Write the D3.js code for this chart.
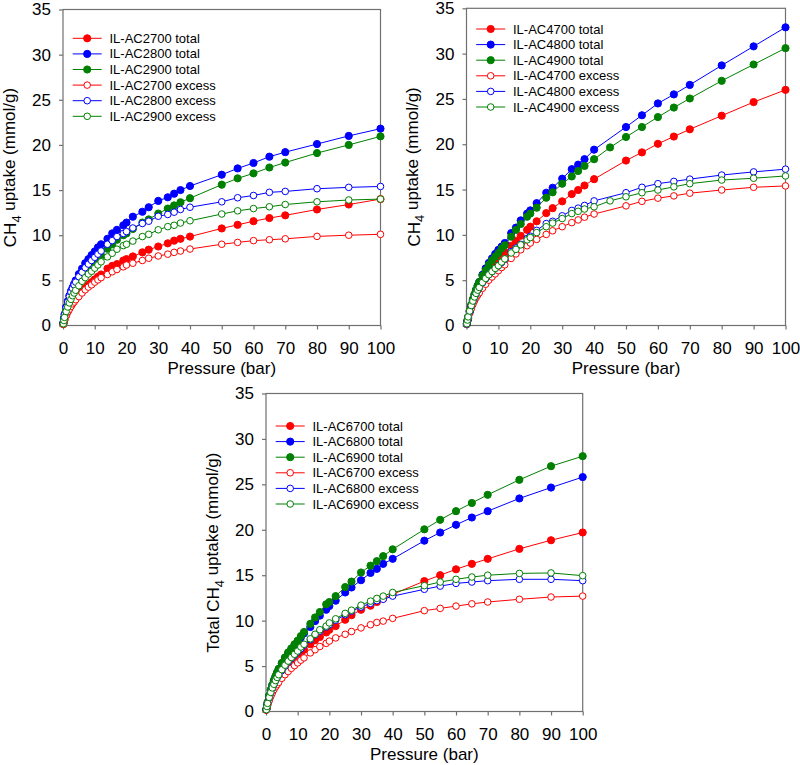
<!DOCTYPE html>
<html>
<head>
<meta charset="utf-8">
<script src="https://cdn.jsdelivr.net/npm/d3@7"></script>
<style>
  body { margin: 0; background: #fff; }
  svg text { font-family: Arial, "Liberation Sans", sans-serif; fill: #000; }
</style>
</head>
<body>
<svg id="chart" width="800" height="765"></svg>
<script>
// pressures (bar) used by the measurements
var pressure = [0.1, 0.3, 0.5, 1, 1.5, 2, 2.5, 3, 3.5, 4, 5, 6, 7, 8, 9,
  10, 11, 12, 14, 15.5, 17, 19, 20, 22, 25, 27, 30, 33, 35, 37, 40,
  50, 55, 60, 65, 70, 80, 90, 100];
// the 4x00 set has one extra point at 45 bar (only IL-AC4900)
var pressure4 = [0.1, 0.3, 0.5, 1, 1.5, 2, 2.5, 3, 3.5, 4, 5, 6, 7, 8, 9,
  10, 11, 12, 14, 15.5, 17, 19, 20, 22, 25, 27, 30, 33, 35, 37, 40, 45,
  50, 55, 60, 65, 70, 80, 90, 100];

var xTicks = [0, 10, 20, 30, 40, 50, 60, 70, 80, 90, 100];
var yTicks = [0, 5, 10, 15, 20, 25, 30, 35];
var seriesColors = ["#ff0000", "#0000ff", "#008000"];

// ---- IL-AC2x00 ----
var names2 = ["IL-AC2700 total", "IL-AC2800 total", "IL-AC2900 total",
  "IL-AC2700 excess", "IL-AC2800 excess", "IL-AC2900 excess"];
var ac2700Total = [0.15, 0.4, 0.65, 1.15, 1.55, 1.9, 2.2, 2.5, 2.75, 3.0, 3.4, 3.8, 4.15, 4.5, 4.8,
  5.1, 5.4, 5.65, 6.3, 6.6, 6.8, 7.2, 7.35, 7.65, 8.1, 8.4, 8.75, 9.1, 9.4, 9.6, 9.85,
  10.75, 11.15, 11.55, 11.9, 12.2, 12.85, 13.4, 14.0];
var ac2800Total = [0.3, 0.8, 1.25, 2.05, 2.7, 3.3, 3.8, 4.2, 4.6, 5.0, 5.7, 6.3, 6.9, 7.35, 7.8,
  8.2, 8.65, 9.0, 9.6, 10.2, 10.6, 11.1, 11.4, 12.05, 12.6, 13.1, 13.8, 14.2, 14.6, 15.0, 15.45,
  16.7, 17.4, 18.0, 18.7, 19.2, 20.1, 21.0, 21.8];
var ac2900Total = [0.2, 0.6, 1.0, 1.7, 2.3, 2.8, 3.2, 3.6, 4.0, 4.3, 4.9, 5.4, 5.9, 6.3, 6.7,
  7.0, 7.35, 7.75, 8.5, 9.0, 9.5, 10.0, 10.2, 10.7, 11.4, 11.75, 12.4, 12.95, 13.3, 13.65, 14.1,
  15.6, 16.3, 16.85, 17.5, 18.05, 19.1, 20.0, 20.95];
var ac2700Excess = [0.15, 0.4, 0.6, 1.1, 1.5, 1.8, 2.1, 2.4, 2.6, 2.85, 3.2, 3.6, 3.95, 4.25, 4.5,
  4.8, 5.05, 5.3, 5.65, 5.95, 6.2, 6.5, 6.7, 6.9, 7.2, 7.45, 7.7, 7.9, 8.1, 8.25, 8.47,
  9.0, 9.2, 9.4, 9.5, 9.6, 9.87, 10.0, 10.1];
var ac2800Excess = [0.3, 0.8, 1.2, 2.0, 2.6, 3.2, 3.7, 4.1, 4.5, 4.8, 5.4, 5.9, 6.4, 6.8, 7.2,
  7.55, 7.9, 8.25, 9.0, 9.4, 9.85, 10.2, 10.4, 10.8, 11.3, 11.55, 12.1, 12.3, 12.55, 12.85, 13.1,
  13.7, 14.15, 14.4, 14.75, 14.85, 15.15, 15.3, 15.4];
var ac2900Excess = [0.2, 0.55, 0.9, 1.55, 2.05, 2.5, 2.9, 3.3, 3.6, 3.9, 4.4, 4.9, 5.3, 5.7, 6.0,
  6.35, 6.7, 7.05, 7.6, 8.0, 8.45, 8.85, 9.0, 9.35, 9.85, 10.1, 10.6, 10.95, 11.1, 11.35, 11.6,
  12.35, 12.7, 12.95, 13.15, 13.4, 13.7, 13.9, 14.0];

// ---- IL-AC4x00 ----
var names4 = ["IL-AC4700 total", "IL-AC4800 total", "IL-AC4900 total",
  "IL-AC4700 excess", "IL-AC4800 excess", "IL-AC4900 excess"];
var ac4700Total = [0.2, 0.55, 0.9, 1.6, 2.2, 2.75, 3.25, 3.7, 4.1, 4.45, 5.1, 5.65, 6.15, 6.6, 7.0,
  7.4, 7.75, 8.05, 8.8, 9.35, 9.9, 10.55, 10.9, 11.5, 12.4, 12.95, 13.7, 14.5, 14.95, 15.45, 16.15, null,
  18.2, 19.1, 20.05, 20.85, 21.65, 23.15, 24.65, 26.0];
var ac4800Total = [0.15, 0.5, 0.8, 1.5, 2.2, 2.8, 3.4, 3.9, 4.4, 4.8, 5.6, 6.3, 6.9, 7.4, 7.9,
  8.35, 8.7, 9.1, 10.2, 10.8, 11.6, 12.35, 12.7, 13.5, 14.65, 15.2, 16.2, 17.25, 17.75, 18.35, 19.4, null,
  21.9, 23.2, 24.5, 25.5, 26.55, 28.7, 30.8, 32.9];
var ac4900Total = [0.2, 0.6, 0.95, 1.65, 2.3, 2.9, 3.45, 3.95, 4.4, 4.8, 5.5, 6.1, 6.7, 7.2, 7.6,
  8.0, 8.5, 8.85, 9.8, 10.55, 11.2, 12.0, 12.35, 13.0, 14.1, 14.7, 15.65, 16.45, 17.05, 17.6, 18.35, 19.65,
  20.8, 21.9, 23.0, 24.05, 25.05, 27.0, 28.8, 30.6];
var ac4700Excess = [0.15, 0.5, 0.8, 1.35, 1.85, 2.3, 2.7, 3.05, 3.35, 3.6, 4.1, 4.55, 5.0, 5.35, 5.7,
  6.05, 6.4, 6.7, 7.4, 7.9, 8.35, 8.8, 9.1, 9.5, 10.05, 10.45, 10.9, 11.35, 11.65, 11.95, 12.3, null,
  13.2, 13.7, 14.05, 14.3, 14.6, 14.95, 15.25, 15.4];
var ac4800Excess = [0.2, 0.55, 0.9, 1.55, 2.15, 2.65, 3.1, 3.5, 3.85, 4.15, 4.7, 5.15, 5.6, 5.95, 6.3,
  6.6, 6.95, 7.3, 8.15, 8.55, 8.95, 9.6, 9.85, 10.5, 11.25, 11.5, 12.1, 12.7, 12.95, 13.25, 13.75, null,
  14.65, 15.25, 15.65, 15.9, 16.15, 16.6, 16.95, 17.25];
var ac4900Excess = [0.2, 0.6, 0.95, 1.6, 2.2, 2.7, 3.15, 3.55, 3.9, 4.2, 4.75, 5.2, 5.6, 5.95, 6.3,
  6.6, 7.0, 7.35, 8.0, 8.4, 8.9, 9.45, 9.7, 10.25, 10.9, 11.3, 11.8, 12.35, 12.6, 12.85, 13.1, 13.75,
  14.2, 14.65, 14.95, 15.3, 15.65, 16.05, 16.25, 16.5];

// ---- IL-AC6x00 ----
var names6 = ["IL-AC6700 total", "IL-AC6800 total", "IL-AC6900 total",
  "IL-AC6700 excess", "IL-AC6800 excess", "IL-AC6900 excess"];
var ac6700Total = [0.2, 0.5, 0.8, 1.35, 1.85, 2.3, 2.7, 3.05, 3.35, 3.65, 4.15, 4.6, 5.05, 5.45, 5.8,
  6.15, 6.45, 6.8, 7.4, 7.85, 8.2, 8.7, 9.0, 9.4, 10.1, 10.6, 11.2, 11.65, 12.05, 12.45, 12.9,
  14.35, 15.0, 15.65, 16.25, 16.8, 17.9, 18.85, 19.7];
var ac6800Total = [0.25, 0.6, 1.0, 1.7, 2.35, 2.9, 3.4, 3.85, 4.25, 4.65, 5.3, 5.9, 6.4, 6.85, 7.3,
  7.7, 8.15, 8.6, 9.3, 9.95, 10.55, 11.2, 11.6, 12.2, 13.1, 13.65, 14.45, 15.25, 15.7, 16.25, 16.8,
  18.8, 19.7, 20.55, 21.35, 22.05, 23.45, 24.65, 25.8];
var ac6900Total = [0.25, 0.65, 1.0, 1.75, 2.4, 2.95, 3.45, 3.9, 4.3, 4.7, 5.35, 5.95, 6.5, 6.95, 7.4,
  7.8, 8.3, 8.75, 9.65, 10.35, 10.95, 11.8, 12.05, 12.7, 13.7, 14.3, 15.3, 16.05, 16.55, 17.1, 17.85,
  20.05, 21.1, 22.05, 22.95, 23.85, 25.5, 27.0, 28.1];
var ac6700Excess = [0.15, 0.45, 0.7, 1.2, 1.65, 2.05, 2.4, 2.7, 2.95, 3.2, 3.65, 4.05, 4.4, 4.75, 5.05,
  5.35, 5.65, 5.9, 6.45, 6.8, 7.15, 7.5, 7.75, 8.1, 8.5, 8.8, 9.2, 9.55, 9.8, 9.95, 10.25,
  11.1, 11.35, 11.6, 11.85, 12.05, 12.35, 12.6, 12.7];
var ac6800Excess = [0.2, 0.55, 0.9, 1.5, 2.05, 2.55, 2.95, 3.35, 3.7, 4.0, 4.5, 5.0, 5.45, 5.85, 6.2,
  6.55, 6.9, 7.3, 7.9, 8.45, 8.85, 9.3, 9.55, 10.05, 10.65, 11.05, 11.5, 11.9, 12.2, 12.35, 12.7,
  13.45, 13.8, 14.1, 14.25, 14.4, 14.55, 14.55, 14.4];
var ac6900Excess = [0.2, 0.55, 0.9, 1.55, 2.1, 2.6, 3.0, 3.4, 3.75, 4.05, 4.6, 5.1, 5.55, 5.95, 6.3,
  6.65, 7.1, 7.4, 8.0, 8.5, 9.0, 9.4, 9.75, 10.2, 10.8, 11.15, 11.7, 12.15, 12.45, 12.7, 13.1,
  13.85, 14.25, 14.55, 14.8, 15.0, 15.2, 15.25, 14.95];

var svg = d3.select("#chart");

var panels = [
  { left: 63, top: 9.5, w: 317.5, h: 316, yTitle: ["CH", "4", " uptake (mmol/g)"], legendTop: 28.8,
    p: pressure, names: names2,
    values: [ac2700Total, ac2800Total, ac2900Total, ac2700Excess, ac2800Excess, ac2900Excess] },
  { left: 466.5, top: 8.3, w: 319, h: 317.2, yTitle: ["CH", "4", " uptake (mmol/g)"], legendTop: 20.7,
    p: pressure4, names: names4,
    values: [ac4700Total, ac4800Total, ac4900Total, ac4700Excess, ac4800Excess, ac4900Excess] },
  { left: 266, top: 393.5, w: 316.7, h: 318, yTitle: ["Total CH", "4", " uptake (mmol/g)"], legendTop: 32.5,
    p: pressure, names: names6,
    values: [ac6700Total, ac6800Total, ac6900Total, ac6700Excess, ac6800Excess, ac6900Excess] }
];

panels.forEach(drawPanel);

function drawPanel(cfg) {
  var g = svg.append("g").attr("transform", "translate(" + cfg.left + "," + cfg.top + ")");
  var x = d3.scaleLinear().domain([0, 100]).range([0, cfg.w]);
  var y = d3.scaleLinear().domain([0, 35]).range([cfg.h, 0]);
  var axisColor = "#707070";

  // frame
  g.append("rect").attr("width", cfg.w).attr("height", cfg.h)
    .attr("fill", "none").attr("stroke", axisColor).attr("stroke-width", 1.2);

  var xAxis = g.append("g").attr("transform", "translate(0," + cfg.h + ")")
    .call(d3.axisBottom(x).tickValues(xTicks).tickSize(4).tickPadding(12).tickFormat(d3.format("d")));
  var yAxis = g.append("g")
    .call(d3.axisLeft(y).tickValues(yTicks).tickSize(4).tickPadding(8).tickFormat(d3.format("d")));
  [xAxis, yAxis].forEach(function(a) {
    a.select(".domain").remove();
    a.selectAll("line").attr("stroke", axisColor).attr("stroke-width", 1.2);
    a.selectAll("text").attr("font-size", "17px").attr("fill", "#000")
      .style("font-family", "Arial, 'Liberation Sans', sans-serif");
  });

  // axis titles
  g.append("text")
    .attr("x", cfg.w / 2).attr("y", cfg.h + 48.5)
    .attr("text-anchor", "middle").attr("font-size", "17px")
    .text("Pressure (bar)");
  var yt = g.append("text")
    .attr("text-anchor", "middle").attr("font-size", "17px")
    .attr("transform", "translate(-47," + (cfg.h / 2) + ") rotate(-90)");
  yt.append("tspan").text(cfg.yTitle[0]);
  yt.append("tspan").attr("dy", "0.35em").attr("font-size", "13px").text(cfg.yTitle[1]);
  yt.append("tspan").attr("dy", "-0.35em").text(cfg.yTitle[2]);

  var line = d3.line()
    .x(function(d) { return x(d[0]); })
    .y(function(d) { return y(d[1]); });

  cfg.values.forEach(function(vals, i) {
    var color = seriesColors[i % 3];
    var filled = i < 3;
    var pts = [];
    vals.forEach(function(v, k) { if (v !== null) pts.push([cfg.p[k], v]); });
    g.append("path").datum(pts)
      .attr("fill", "none").attr("stroke", color).attr("stroke-width", 1)
      .attr("d", line);
    g.selectAll(".pt" + i).data(pts).enter().append("circle")
      .attr("class", "pt" + i)
      .attr("cx", function(d) { return x(d[0]); })
      .attr("cy", function(d) { return y(d[1]); })
      .attr("r", filled ? 3.6 : 3.3)
      .attr("fill", filled ? color : "#fff")
      .attr("stroke", color).attr("stroke-width", 1);

    // legend row
    var ly = cfg.legendTop + i * 15.6;
    var lg = g.append("g").attr("transform", "translate(0," + ly + ")");
    lg.append("line").attr("x1", 9.7).attr("x2", 38.7).attr("y1", 0).attr("y2", 0)
      .attr("stroke", color).attr("stroke-width", 1);
    lg.append("circle").attr("cx", 24.2).attr("cy", 0).attr("r", filled ? 3.6 : 3.3)
      .attr("fill", filled ? color : "#fff").attr("stroke", color).attr("stroke-width", 1);
    lg.append("text").attr("x", 46.5).attr("y", 0).attr("dy", "0.35em")
      .attr("font-size", "13px").text(cfg.names[i]);
  });
}
</script>
</body>
</html>
